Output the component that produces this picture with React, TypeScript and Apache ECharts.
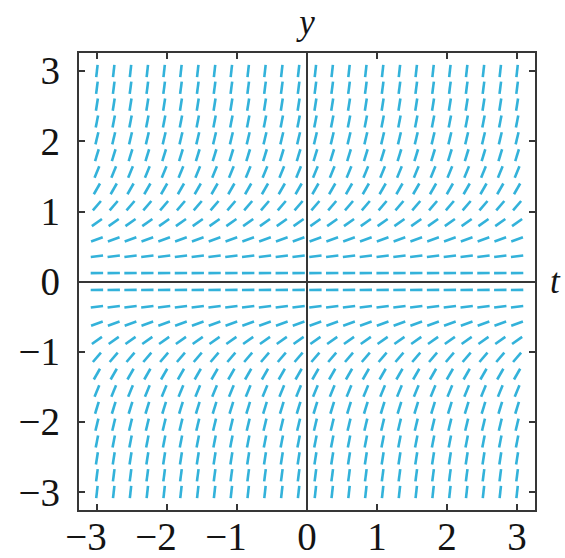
import React, { useEffect, useRef } from "react";
import * as echarts from "echarts";

// Grid of sample points (t and y), 26 each from -3 to 3
const T_VALUES = [
  -3, -2.76, -2.52, -2.28, -2.04, -1.8, -1.56, -1.32, -1.08, -0.84, -0.6, -0.36, -0.12,
  0.12, 0.36, 0.6, 0.84, 1.08, 1.32, 1.56, 1.8, 2.04, 2.28, 2.52, 2.76, 3,
];
const Y_VALUES = [
  -3, -2.76, -2.52, -2.28, -2.04, -1.8, -1.56, -1.32, -1.08, -0.84, -0.6, -0.36, -0.12,
  0.12, 0.36, 0.6, 0.84, 1.08, 1.32, 1.56, 1.8, 2.04, 2.28, 2.52, 2.76, 3,
];
// Slope of each row (one per Y_VALUES entry)
const ROW_SLOPES = [
  9, 7.62, 6.35, 5.2, 4.16, 3.24, 2.43, 1.74, 1.17, 0.71, 0.36, 0.13, 0.01,
  0.01, 0.13, 0.36, 0.71, 1.17, 1.74, 2.43, 3.24, 4.16, 5.2, 6.35, 7.62, 9,
];
const TICK_VALUES = [-3, -2, -1, 1, 2, 3];
const LABEL_VALUES = [-3, -2, -1, 0, 1, 2, 3];
const AXIS_MIN = -3.27;
const AXIS_MAX = 3.27;

const DASH_COLOR = "#33b2da";
const AXIS_COLOR = "#363636";
const TEXT_COLOR = "#141414";
const FONT = "'Liberation Serif', 'Times New Roman', serif";
const FONT_SIZE = 39;

export default function App() {
  const ref = useRef<HTMLDivElement>(null);

  useEffect(() => {
    if (!ref.current) return;
    const chart = echarts.init(ref.current, undefined, { renderer: "svg" });

    const data: number[][] = [];
    Y_VALUES.forEach((y, i) => {
      T_VALUES.forEach((t) => {
        data.push([t, y, ROW_SLOPES[i]]);
      });
    });

    const tickCommon = {
      show: true,
      inside: true,
      length: 7,
      customValues: TICK_VALUES,
      lineStyle: { color: AXIS_COLOR, width: 2 },
    };
    const lineOff = { show: false, onZero: false };

    const xLabelFormatter = (v: number) => {
      if (v < 0) return `{m|\u2212}{d|${Math.abs(v)}}{p|}`;
      return `{d|${v}}`;
    };
    const yLabelFormatter = (v: number) => (v < 0 ? `\u2212${Math.abs(v)}` : `${v}`);

    const richStyles = {
      m: { fontFamily: FONT, fontSize: FONT_SIZE, color: TEXT_COLOR },
      d: { fontFamily: FONT, fontSize: FONT_SIZE, color: TEXT_COLOR },
      p: { width: 22, fontSize: FONT_SIZE },
    };

    const option: any = {
      animation: false,
      grid: {
        left: 78,
        top: 52,
        width: 458,
        height: 459,
        show: true,
        borderColor: AXIS_COLOR,
        borderWidth: 2,
        backgroundColor: "transparent",
      },
      xAxis: [
        {
          type: "value",
          position: "bottom",
          min: AXIS_MIN,
          max: AXIS_MAX,
          axisLine: lineOff,
          splitLine: { show: false },
          axisTick: tickCommon,
          axisLabel: {
            customValues: LABEL_VALUES,
            formatter: xLabelFormatter,
            margin: 6,
            fontFamily: FONT,
            fontSize: FONT_SIZE,
            color: TEXT_COLOR,
            rich: richStyles,
          },
        },
        {
          type: "value",
          position: "top",
          min: AXIS_MIN,
          max: AXIS_MAX,
          axisLine: lineOff,
          splitLine: { show: false },
          axisTick: tickCommon,
          axisLabel: { show: false },
        },
      ],
      yAxis: [
        {
          type: "value",
          position: "left",
          min: AXIS_MIN,
          max: AXIS_MAX,
          axisLine: lineOff,
          splitLine: { show: false },
          axisTick: tickCommon,
          axisLabel: {
            customValues: LABEL_VALUES,
            formatter: yLabelFormatter,
            margin: 18,
            fontFamily: FONT,
            fontSize: FONT_SIZE,
            color: TEXT_COLOR,
          },
        },
        {
          type: "value",
          position: "right",
          min: AXIS_MIN,
          max: AXIS_MAX,
          axisLine: lineOff,
          splitLine: { show: false },
          axisTick: tickCommon,
          axisLabel: { show: false },
        },
      ],
      series: [
        {
          type: "custom",
          xAxisIndex: 0,
          yAxisIndex: 0,
          silent: true,
          encode: { x: 0, y: 1 },
          data,
          renderItem: (params: any, api: any) => {
            const t = api.value(0);
            const y = api.value(1);
            const s = api.value(2);
            const c = api.coord([t, y]);
            const sz = api.size([1, 1]);
            let dx = sz[0];
            let dy = -s * sz[1];
            const len = Math.hypot(dx, dy);
            const half = 6.2;
            dx = (dx / len) * half;
            dy = (dy / len) * half;
            return {
              type: "line",
              shape: { x1: c[0] - dx, y1: c[1] - dy, x2: c[0] + dx, y2: c[1] + dy },
              style: { stroke: DASH_COLOR, lineWidth: 2.6, lineCap: "butt" },
            };
          },
          markLine: {
            silent: true,
            symbol: ["none", "none"],
            precision: 4,
            lineStyle: { color: AXIS_COLOR, width: 2, type: "solid" },
            data: [
              {
                xAxis: 0,
                label: {
                  show: true,
                  position: "end",
                  formatter: "y",
                  distance: 12,
                  fontFamily: FONT,
                  fontStyle: "italic",
                  fontSize: 35,
                  color: TEXT_COLOR,
                },
              },
              {
                yAxis: 0,
                label: {
                  show: true,
                  position: "end",
                  formatter: "t",
                  distance: 14,
                  fontFamily: FONT,
                  fontStyle: "italic",
                  fontSize: 35,
                  color: TEXT_COLOR,
                },
              },
            ],
          },
        },
      ],
    };

    chart.setOption(option);
    return () => chart.dispose();
  }, []);

  return (
    <div
      ref={ref}
      style={{ position: "fixed", left: 0, top: 0, width: 565, height: 558, background: "#fff" }}
    />
  );
}
